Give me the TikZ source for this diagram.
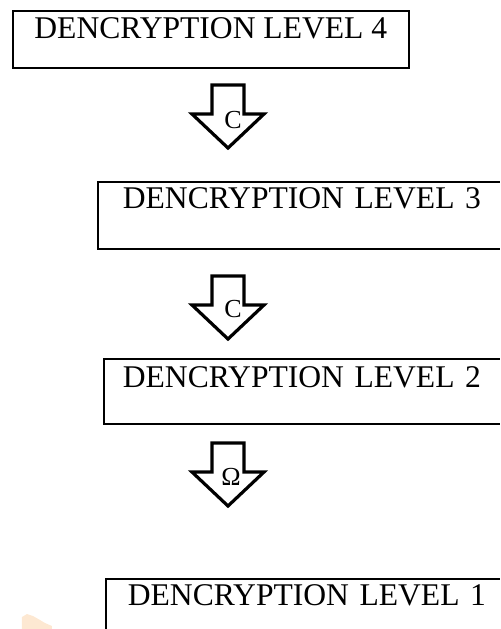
\documentclass[tikz,border=0pt]{standalone}
\usepackage{fontspec}
\setmainfont{Liberation Serif}
\usetikzlibrary{positioning}
\definecolor{peach}{HTML}{FDE8D2}

\tikzset{
  level/.style={draw,line width=0.85pt,anchor=north west,inner ysep=0pt,align=left,
    font=\fontsize{15.8}{18}\selectfont},
  blockarrow/.pic={
    \draw[line width=1.6pt,fill=white,line join=miter]
      (-16,0) -- (16,0) -- (16,29) -- (36,29) -- (0,63) -- (-36,29) -- (-16,29) -- cycle;
  },
  mark letter/.style={inner sep=0pt,font=\fontsize{13}{14}\selectfont}
}

\begin{document}
\begin{tikzpicture}[x=0.5pt,y=-0.5pt]
  \useasboundingbox (0,0) rectangle (500,629);
  \clip (0,0) rectangle (500,629);

  \node[level,inner xsep=10.5pt,text height=14pt,text depth=14.5pt,minimum width=198pt]
    at (12,10) (lvl4) {DENCRYPTION LEVEL 4};
  \node[level,inner xsep=12.5pt,text height=13.5pt,text depth=20pt,text width=200pt]
    at (97,181) (lvl3) {DENCRYPTION LEVEL 3};
  \node[level,inner xsep=9.5pt,text height=14.5pt,text depth=18pt,text width=200pt]
    at (103,358) (lvl2) {DENCRYPTION LEVEL 2};
  \node[level,inner xsep=11pt,text height=13.5pt,text depth=30pt,text width=200pt]
    at (105,578) (lvl1) {DENCRYPTION LEVEL 1};

  \pic at (228,85) {blockarrow};
  \node[mark letter] at (233,120) (c1) {C};

  \pic at (228,276) {blockarrow};
  \node[mark letter] at (233,309) (c2) {C};

  \pic at (228,443) {blockarrow};
  \node[mark letter] at (231,477) (c3) {Ω};

  \fill[peach] (22,629) -- (22,617) -- (27,614) -- (33,616) -- (40,620) -- (45,623)
    -- (52,626) -- (52,629) -- cycle;
\end{tikzpicture}
\end{document}
